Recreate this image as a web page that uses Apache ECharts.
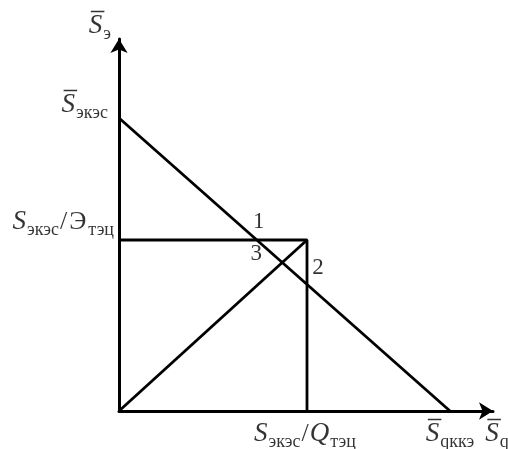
<!DOCTYPE html>
<html>
<head>
<meta charset="utf-8">
<script src="https://cdn.jsdelivr.net/npm/echarts@6/dist/echarts.min.js"></script>
<style>html,body{margin:0;padding:0;background:#fff}#c{width:508px;height:449px}</style>
</head>
<body>
<div id="c"></div>
<script>
// Diagram values (in drawing units, 1 unit = 1 px on each axis)
const xMax = 374;            // end of the S̄q axis
const yMax = 372;            // end of the S̄э axis
const eIntercept = 293;      // S̄экэс on vertical axis
const qIntercept = 331;      // S̄qккэ on horizontal axis
const ratioE = 171;          // Sэкэс/Этэц level
const ratioQ = 188;          // Sэкэс/Qтэц level
const pointNames = ['1', '2', '3'];

// Derived points (intersections)
const budgetY = x => eIntercept * (1 - x / qIntercept);
const p1 = [qIntercept * (1 - ratioE / eIntercept), ratioE];
const p2 = [ratioQ, budgetY(ratioQ)];
const slope = ratioE / ratioQ;
const x3 = eIntercept / (slope + eIntercept / qIntercept);
const p3 = [x3, slope * x3];

const serif = 'Liberation Serif';
const rich = {
  S: {fontFamily: serif, fontStyle: 'italic', fontSize: 27, color: '#000', padding: [0, 0, 4, 0], verticalAlign: 'bottom', lineHeight: 28},
  U: {fontFamily: serif, fontSize: 26, color: '#000', padding: [0, 1, 4, 1], verticalAlign: 'bottom', lineHeight: 28},
  lo: {fontFamily: serif, fontStyle: 'normal', fontSize: 18, color: '#000', verticalAlign: 'bottom', lineHeight: 20, padding: [0, 0, 0, 1]}
};

const chart = echarts.init(document.getElementById('c'));
const lineStyle = {color: '#000', width: 2.8};

function lbl(x, y, text, opts) {
  return {value: [x, y], label: Object.assign({show: true, formatter: text, rich: rich, fontFamily: serif, fontSize: 16, color: '#000'}, opts)};
}

chart.setOption({
  animation: false,
  backgroundColor: '#fff',
  grid: {left: 119, top: 39, width: xMax, height: yMax},
  xAxis: {
    type: 'value', min: 0, max: xMax,
    axisLine: {show: true, lineStyle: {color: '#000', width: 3}, symbol: ['none', 'arrow'], symbolSize: [13, 14]},
    axisTick: {show: false}, axisLabel: {show: false}, splitLine: {show: false}
  },
  yAxis: {
    type: 'value', min: 0, max: yMax,
    axisLine: {show: true, lineStyle: {color: '#000', width: 3}, symbol: ['none', 'arrow'], symbolSize: [13, 14]},
    axisTick: {show: false}, axisLabel: {show: false}, splitLine: {show: false}
  },
  series: [
    {type: 'line', data: [[0, eIntercept], [qIntercept, 0]], symbol: 'none', lineStyle: lineStyle},
    {type: 'line', data: [[0, ratioE], [ratioQ, ratioE], [ratioQ, 0]], symbol: 'none', lineStyle: lineStyle},
    {type: 'line', data: [[0, 0], [ratioQ, ratioE]], symbol: 'none', lineStyle: lineStyle},
    {
      type: 'scatter', symbolSize: 0, silent: true,
      data: [
        lbl(0, yMax, '{S|S\u0305}{lo|э}', {position: [0, 0], align: 'right', verticalAlign: 'bottom', offset: [-8, 4]}),
        lbl(0, eIntercept, '{S|S\u0305}{lo|экэс}', {position: [0, 0], align: 'right', verticalAlign: 'bottom', offset: [-11, 4]}),
        lbl(0, ratioE, '{S|S}{lo|экэс}{U|/}{U|Э}{lo|тэц}', {position: [0, 0], align: 'right', verticalAlign: 'bottom', offset: [-5, -1]}),
        lbl(ratioQ, 0, '{S|S}{lo|экэс}{U|/}{S|Q}{lo|тэц}', {position: [0, 0], align: 'center', verticalAlign: 'top', offset: [-2, 12]}),
        lbl(qIntercept, 0, '{S|S\u0305}{lo|qккэ}', {position: [0, 0], align: 'center', verticalAlign: 'top', offset: [0, 12]}),
        lbl(xMax, 0, '{S|S\u0305}{lo|q}', {position: [0, 0], align: 'center', verticalAlign: 'top', offset: [4, 12]}),
        lbl(p1[0], p1[1], pointNames[0], {position: [0, 0], align: 'center', verticalAlign: 'middle', offset: [2, -18], fontSize: 23}),
        lbl(p2[0], p2[1], pointNames[1], {position: [0, 0], align: 'center', verticalAlign: 'middle', offset: [11, -16], fontSize: 23}),
        lbl(p3[0], p3[1], pointNames[2], {position: [0, 0], align: 'center', verticalAlign: 'middle', offset: [-26, -9], fontSize: 23})
      ]
    }
  ]
});
</script>
</body>
</html>
